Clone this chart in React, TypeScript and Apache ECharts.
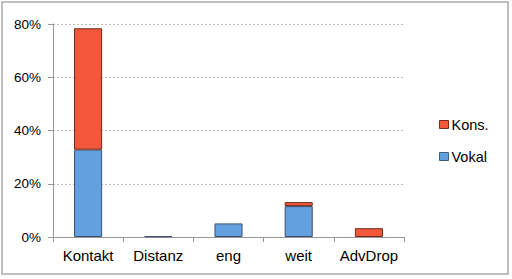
import React, { useEffect, useRef } from "react";
import * as echarts from "echarts";

const categories = ["Kontakt", "Distanz", "eng", "weit", "AdvDrop"];
const vokal: (number | null)[] = [32.8, 0.3, 5.1, 11.6, null];
const kons: (number | null)[] = [45.6, null, null, 1.5, 3.3];
const yTicks = [0, 20, 40, 60, 80];

export default function App() {
  const ref = useRef<HTMLDivElement>(null);
  useEffect(() => {
    const chart = echarts.init(ref.current!, null, { renderer: "svg" });
    const font = "Liberation Sans, Arial, sans-serif";
    chart.setOption({
      animation: false,
      backgroundColor: "#fff",
      grid: { left: 53, right: 108, top: 24, bottom: 42, containLabel: false },
      legend: {
        orient: "vertical",
        left: 434,
        top: 112,
        itemWidth: 9,
        itemHeight: 8,
        itemGap: 17,
        icon: "rect",
        textStyle: { fontFamily: font, fontSize: 14.5, color: "#000", padding: [0, 0, 0, -2] },
        data: [
          { name: "Kons.", itemStyle: { borderColor: "#7a2a1c", borderWidth: 1 } },
          { name: "Vokal", itemStyle: { borderColor: "#3d5f82", borderWidth: 1 } },
        ],
      },
      xAxis: {
        type: "category",
        data: categories,
        axisLine: { lineStyle: { color: "#999", width: 1 } },
        axisTick: { show: true, length: 5, lineStyle: { color: "#999" } },
        axisLabel: { fontFamily: font, fontSize: 15, color: "#000", margin: 11, interval: 0, hideOverlap: false },
      },
      yAxis: {
        type: "value",
        min: 0,
        max: 80,
        interval: 20,
        axisLine: { show: true, lineStyle: { color: "#999", width: 1 } },
        axisTick: { show: true, length: 5, lineStyle: { color: "#999" } },
        axisLabel: {
          fontFamily: font,
          fontSize: 13.5,
          color: "#000",
          margin: 12,
          formatter: (v: number) => (yTicks.includes(v) ? v + "%" : ""),
        },
        splitLine: { lineStyle: { color: "#bbb", type: [2, 2], width: 1 } },
      },
      series: [
        {
          name: "Vokal",
          type: "bar",
          stack: "a",
          data: vokal,
          barWidth: "40%",
          itemStyle: { color: "#62a0e0", borderColor: "#3d5070", borderWidth: 1 },
        },
        {
          name: "Kons.",
          type: "bar",
          stack: "a",
          data: kons,
          barWidth: "40%",
          itemStyle: { color: "#f4573a", borderColor: "#6b2a1c", borderWidth: 1 },
        },
      ],
      graphic: [
        {
          type: "rect",
          shape: { x: 2, y: 2, width: 506, height: 272 },
          style: { fill: "none", stroke: "#aaa", lineWidth: 1.5 },
          silent: true,
        },
      ],
    });
    return () => chart.dispose();
  }, []);
  return (
    <div
      ref={ref}
      style={{ position: "absolute", left: 0, top: 0, width: 512, height: 279 }}
    />
  );
}
